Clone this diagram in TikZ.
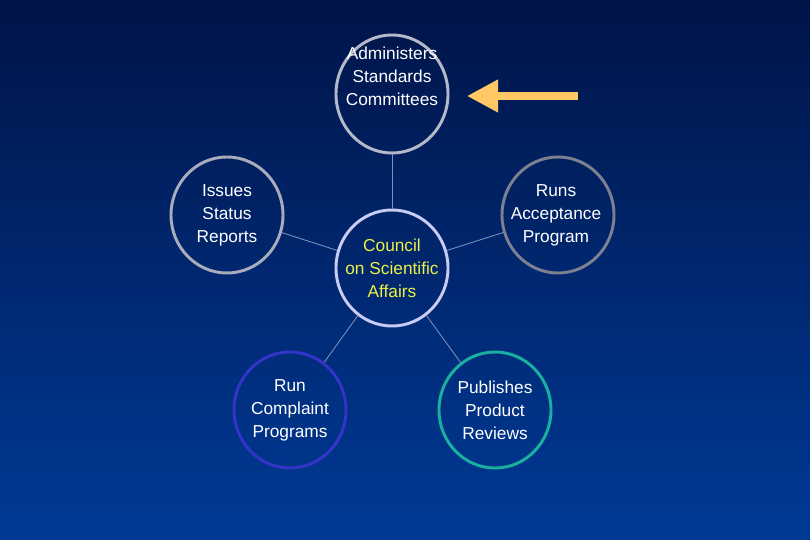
\documentclass[tikz,border=0pt]{standalone}
\usepackage{fontspec}
\setmainfont{Liberation Sans}
\usetikzlibrary{arrows.meta,shapes.geometric}
\definecolor{navytop}{RGB}{0,20,72}
\definecolor{navybottom}{RGB}{0,58,150}
\definecolor{linkgray}{RGB}{128,144,192}
\definecolor{silver}{RGB}{180,184,200}
\definecolor{steel}{RGB}{168,172,188}
\definecolor{slate}{RGB}{124,128,144}
\definecolor{lavender}{RGB}{200,204,244}
\definecolor{royal}{RGB}{52,52,200}
\definecolor{teal}{RGB}{26,176,160}
\definecolor{apricot}{RGB}{255,200,100}
\definecolor{lemon}{RGB}{236,240,72}

\tikzset{
    bubble/.style={ellipse, draw=#1, line width=2.1pt, minimum width=2.8cm,
        minimum height=2.9cm, inner sep=0pt},
    txt/.style={text=white, align=center, font=\fontsize{12.3}{16.3}\selectfont},
    link/.style={linkgray, line width=0.6pt}
}

\begin{document}
\begin{tikzpicture}[x=0.025cm, y=0.025cm]

    % Background
    \shade[top color=navytop, bottom color=navybottom] (0,0) rectangle (810,540);
    \useasboundingbox (0,0) rectangle (810,540);

    % Centre and the five tasks
    \node[bubble=lavender, label={[txt, text=lemon]center:Council\\on Scientific\\Affairs}] (csa) at (392,272) {};
    \node[bubble=silver, minimum height=2.95cm, label={[txt, yshift=0.45cm]center:Administers\\Standards\\Committees}] (stds) at (392,446) {};
    \node[bubble=steel, label={[txt]center:Issues\\Status\\Reports}] (status) at (227,325) {};
    \node[bubble=slate, label={[txt, xshift=-0.05cm]center:Runs\\Acceptance\\Program}] (accept) at (558,325) {};
    \node[bubble=royal, label={[txt]center:Run\\Complaint\\Programs}] (complaint) at (290,130) {};
    \node[bubble=teal, label={[txt]center:Publishes\\Product\\Reviews}] (reviews) at (495,130) {};

    % Links to the centre
    \draw[link] (stds) -- (csa);
    \draw[link] (status) -- (csa);
    \draw[link] (accept) -- (csa);
    \draw[link] (complaint) -- (csa);
    \draw[link] (reviews) -- (csa);

    % Pointer
    \coordinate (arrowtail) at (578,444);
    \coordinate (arrowtip) at (467,444);
    \draw[-{Triangle[length=0.775cm, width=0.775cm]}, apricot, line width=5pt] (arrowtail) -- (arrowtip);

\end{tikzpicture}
\end{document}
